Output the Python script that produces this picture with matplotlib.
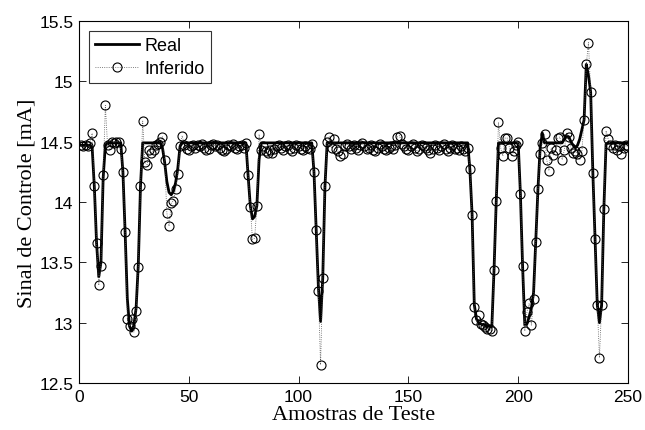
import matplotlib
matplotlib.use("Agg")
import matplotlib.pyplot as plt
from matplotlib.ticker import FixedLocator

samples = list(range(1, 251))

real = [
    14.47, 14.47, 14.47, 14.47, 14.47, 14.45, 14.12, 13.66, 13.38, 13.50,
    14.20, 14.47, 14.49, 14.49, 14.49, 14.49, 14.49, 14.49, 14.49, 14.25,
    13.75, 13.20, 12.97, 12.93, 12.98, 13.12, 13.48, 14.13, 14.49, 14.49,
    14.49, 14.49, 14.49, 14.49, 14.49, 14.49, 14.49, 14.45, 14.33, 14.17,
    14.08, 14.06, 14.09, 14.16, 14.28, 14.46, 14.49, 14.49, 14.49, 14.49,
    14.49, 14.49, 14.49, 14.49, 14.49, 14.49, 14.49, 14.49, 14.49, 14.49,
    14.49, 14.49, 14.49, 14.49, 14.49, 14.49, 14.49, 14.49, 14.49, 14.49,
    14.49, 14.49, 14.49, 14.49, 14.49, 14.49, 14.22, 13.97, 13.86, 13.88,
    13.97, 14.35, 14.49, 14.49, 14.49, 14.49, 14.49, 14.49, 14.49, 14.49,
    14.49, 14.49, 14.49, 14.49, 14.49, 14.49, 14.49, 14.49, 14.49, 14.49,
    14.49, 14.49, 14.49, 14.49, 14.49, 14.49, 14.25, 13.77, 13.30, 13.01,
    13.37, 14.13, 14.49, 14.49, 14.49, 14.49, 14.49, 14.49, 14.49, 14.49,
    14.49, 14.49, 14.49, 14.49, 14.49, 14.49, 14.49, 14.49, 14.49, 14.49,
    14.49, 14.49, 14.49, 14.49, 14.49, 14.49, 14.49, 14.49, 14.49, 14.49,
    14.49, 14.49, 14.49, 14.49, 14.49, 14.49, 14.49, 14.49, 14.49, 14.49,
    14.49, 14.49, 14.49, 14.49, 14.49, 14.49, 14.49, 14.49, 14.49, 14.49,
    14.49, 14.49, 14.49, 14.49, 14.49, 14.49, 14.49, 14.49, 14.49, 14.49,
    14.49, 14.49, 14.49, 14.49, 14.49, 14.49, 14.49, 14.27, 13.90, 13.15,
    13.03, 13.00, 12.99, 12.98, 12.98, 12.97, 12.97, 12.97, 13.44, 14.01,
    14.49, 14.49, 14.49, 14.49, 14.49, 14.49, 14.49, 14.49, 14.49, 14.49,
    14.07, 13.47, 12.98, 12.99, 13.05, 13.12, 13.25, 13.67, 14.11, 14.45,
    14.57, 14.49, 14.49, 14.49, 14.49, 14.49, 14.49, 14.49, 14.49, 14.49,
    14.52, 14.55, 14.54, 14.50, 14.47, 14.45, 14.47, 14.52, 14.60, 14.68,
    15.14, 15.05, 14.91, 14.24, 13.69, 13.15, 13.00, 13.15, 13.94, 14.48,
    14.49, 14.49, 14.49, 14.49, 14.49, 14.49, 14.49, 14.49, 14.49, 14.49,
]

inferido = [
    14.47, 14.46, 14.47, 14.46, 14.49, 14.57, 14.13, 13.66, 13.31, 13.47,
    14.22, 14.80, 14.47, 14.43, 14.50, 14.49, 14.50, 14.50, 14.44, 14.25,
    13.75, 13.03, 12.97, 13.03, 12.92, 13.10, 13.46, 14.13, 14.67, 14.33,
    14.31, 14.43, 14.41, 14.43, 14.47, 14.48, 14.50, 14.54, 14.35, 13.91,
    13.80, 13.99, 14.01, 14.11, 14.23, 14.46, 14.55, 14.47, 14.44, 14.43,
    14.46, 14.47, 14.45, 14.47, 14.46, 14.48, 14.45, 14.43, 14.44, 14.47,
    14.48, 14.46, 14.47, 14.45, 14.43, 14.42, 14.44, 14.47, 14.46, 14.48,
    14.45, 14.44, 14.46, 14.47, 14.45, 14.49, 14.22, 13.96, 13.69, 13.70,
    13.97, 14.56, 14.43, 14.46, 14.42, 14.41, 14.43, 14.41, 14.44, 14.46,
    14.47, 14.45, 14.43, 14.46, 14.47, 14.44, 14.42, 14.45, 14.47, 14.46,
    14.44, 14.43, 14.46, 14.45, 14.44, 14.48, 14.25, 13.77, 13.26, 12.65,
    13.37, 14.13, 14.50, 14.54, 14.45, 14.52, 14.44, 14.42, 14.38, 14.40,
    14.46, 14.48, 14.46, 14.44, 14.47, 14.45, 14.43, 14.47, 14.49, 14.46,
    14.44, 14.45, 14.47, 14.43, 14.42, 14.45, 14.48, 14.46, 14.44, 14.43,
    14.45, 14.46, 14.44, 14.47, 14.54, 14.55, 14.48, 14.46, 14.44, 14.43,
    14.46, 14.48, 14.45, 14.42, 14.44, 14.47, 14.46, 14.45, 14.43, 14.41,
    14.44, 14.47, 14.45, 14.43, 14.46, 14.48, 14.44, 14.42, 14.45, 14.47,
    14.44, 14.45, 14.43, 14.46, 14.44, 14.42, 14.45, 14.27, 13.89, 13.13,
    13.02, 13.06, 12.99, 12.98, 12.96, 12.95, 12.95, 12.93, 13.44, 14.01,
    14.66, 14.45, 14.38, 14.53, 14.53, 14.45, 14.38, 14.42, 14.47, 14.50,
    14.07, 13.47, 12.93, 13.09, 13.16, 12.98, 13.20, 13.67, 14.11, 14.40,
    14.49, 14.56, 14.35, 14.26, 14.45, 14.39, 14.43, 14.53, 14.54, 14.35,
    14.43, 14.57, 14.54, 14.45, 14.41, 14.42, 14.40, 14.35, 14.42, 14.68,
    15.14, 15.32, 14.91, 14.24, 13.69, 13.15, 12.71, 13.15, 13.94, 14.59,
    14.52, 14.47, 14.45, 14.47, 14.43, 14.46, 14.40, 14.45, 14.47, 14.46,
]

x_ticks = [0, 50, 100, 150, 200, 250]
y_ticks = [12.5, 13, 13.5, 14, 14.5, 15, 15.5]
y_tick_labels = ["12.5", "13", "13.5", "14", "14.5", "15", "15.5"]

sans = ["Liberation Sans", "DejaVu Sans"]
serif = ["Liberation Serif", "DejaVu Serif"]

fig = plt.figure(figsize=(6.45, 4.31), dpi=100)
ax = fig.add_axes([79 / 645, 1 - 384 / 431, (628 - 79) / 645, (384 - 22) / 431])

ax.plot(samples, real, color="black", linewidth=2.0, label="Real", zorder=3)
ax.plot(samples, inferido, color="#555555", linestyle=":", linewidth=0.6,
        marker="o", markersize=6.5, markerfacecolor="none",
        markeredgecolor="black", markeredgewidth=0.8, label="Inferido", zorder=4)

ax.set_xlim(0, 250)
ax.set_ylim(12.5, 15.5)
ax.xaxis.set_major_locator(FixedLocator(x_ticks))
ax.set_xticklabels([str(v) for v in x_ticks])
ax.yaxis.set_major_locator(FixedLocator(y_ticks))
ax.set_yticklabels(y_tick_labels)

ax.tick_params(direction="in", top=True, right=True, length=5, width=0.6,
               labelsize=12.5, pad=4)
for lab in ax.get_xticklabels() + ax.get_yticklabels():
    lab.set_family(sans)
for sp in ax.spines.values():
    sp.set_linewidth(0.8)

ax.set_xlabel("Amostras de Teste", family=serif, fontsize=16, labelpad=1)
ax.set_ylabel("Sinal de Controle [mA]", family=serif, fontsize=16, labelpad=2)

leg = ax.legend(loc="upper left", bbox_to_anchor=(0.018, 0.972), borderaxespad=0,
                prop={"family": sans, "size": 13}, frameon=True, fancybox=False,
                edgecolor="black", handlelength=2.4, handletextpad=0.35,
                borderpad=0.35, labelspacing=0.3)
leg.get_frame().set_linewidth(0.8)

fig.savefig("out.png", dpi=100)
